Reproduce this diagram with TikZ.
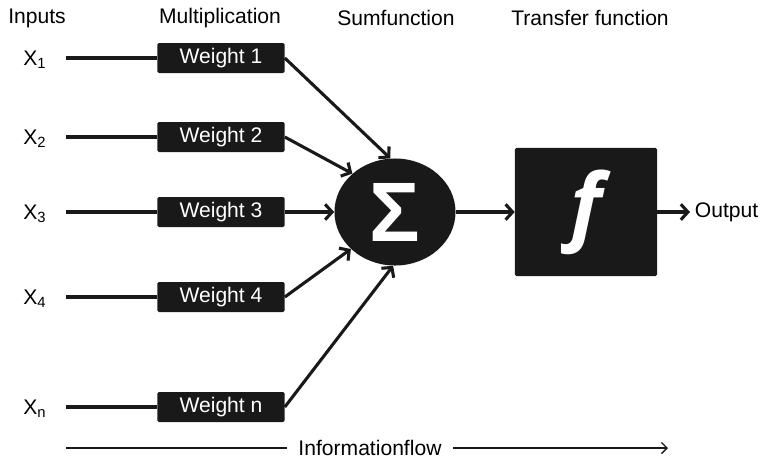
\documentclass[tikz,border=0pt]{standalone}
\usepackage{fontspec}
\setmainfont{Liberation Sans}
\newfontfamily\funcfont{Open Sans}
\usetikzlibrary{shapes.geometric,arrows.meta}

\tikzset{
  weightbox/.style={rectangle, fill=black!90, rounded corners=1pt, minimum width=3.175cm, minimum height=0.75cm, text=white},
  wire/.style={draw=black!90, line width=2.2pt},
}

\begin{document}
\begin{tikzpicture}[x=0.025cm, y=-0.025cm, >={Straight Barb[length=5pt,width=11pt]}, font=\fontsize{15}{17}\selectfont]
    \useasboundingbox (0,0) rectangle (764,463);

    % Überschriften
    \node (hinput) at (37,18) {Inputs};
    \node (hmult) at (220,18) {Multiplication};
    \node (hsum) at (396,18) {Sumfunction};
    \node (htrans) at (590,18) {Transfer function};

    % Eingänge und Gewichte
    \foreach \i/\y/\s in {1/58/1, 2/137/2, 3/212/3, 4/297/4, 5/407/n} {
      \node[anchor=west, inner sep=0] (x\i) at (23,\y+2) {X\textsubscript{\s}};
      \coordinate (s\i) at (66,\y);
      \node[weightbox] (w\i) at (221,\y) {Weight \s};
      \draw[wire] (s\i) -- (w\i.west);
    }

    % Summe
    \node[ellipse, fill=black!90, minimum width=3.025cm, minimum height=2.675cm, inner sep=0] (sum) at (395,212)
      {\fontsize{60}{60}\selectfont\bfseries\color{white}Σ};

    % Pfeile zur Summe
    \foreach \i/\a in {1/95, 2/138, 3/180, 4/220, 5/268}
      \draw[wire, ->] (w\i.east) -- (sum.\a);

    % Transferfunktion
    \node[rectangle, fill=black!90, rounded corners=1pt, minimum width=3.55cm, minimum height=3.2cm] (trans) at (586,212)
      {\funcfont\fontsize{60}{60}\selectfont\bfseries\itshape\color{white}f};
    \draw[wire, ->] (sum.east) -- (trans.west);

    \node[anchor=west] (out) at (690,212) {Output};
    \draw[wire, ->] (trans.east) -- (out.west);

    % Informationsfluss
    \node[inner xsep=8pt] (flow) at (370,448) {Informationflow};
    \coordinate (fstart) at (66,448);
    \coordinate (fend) at (668,448);
    \draw[black!90, line width=1pt] (fstart) -- (flow.west);
    \draw[black!90, line width=1pt, -{Straight Barb[length=4pt,width=8pt]}] (flow.east) -- (fend);
\end{tikzpicture}
\end{document}
